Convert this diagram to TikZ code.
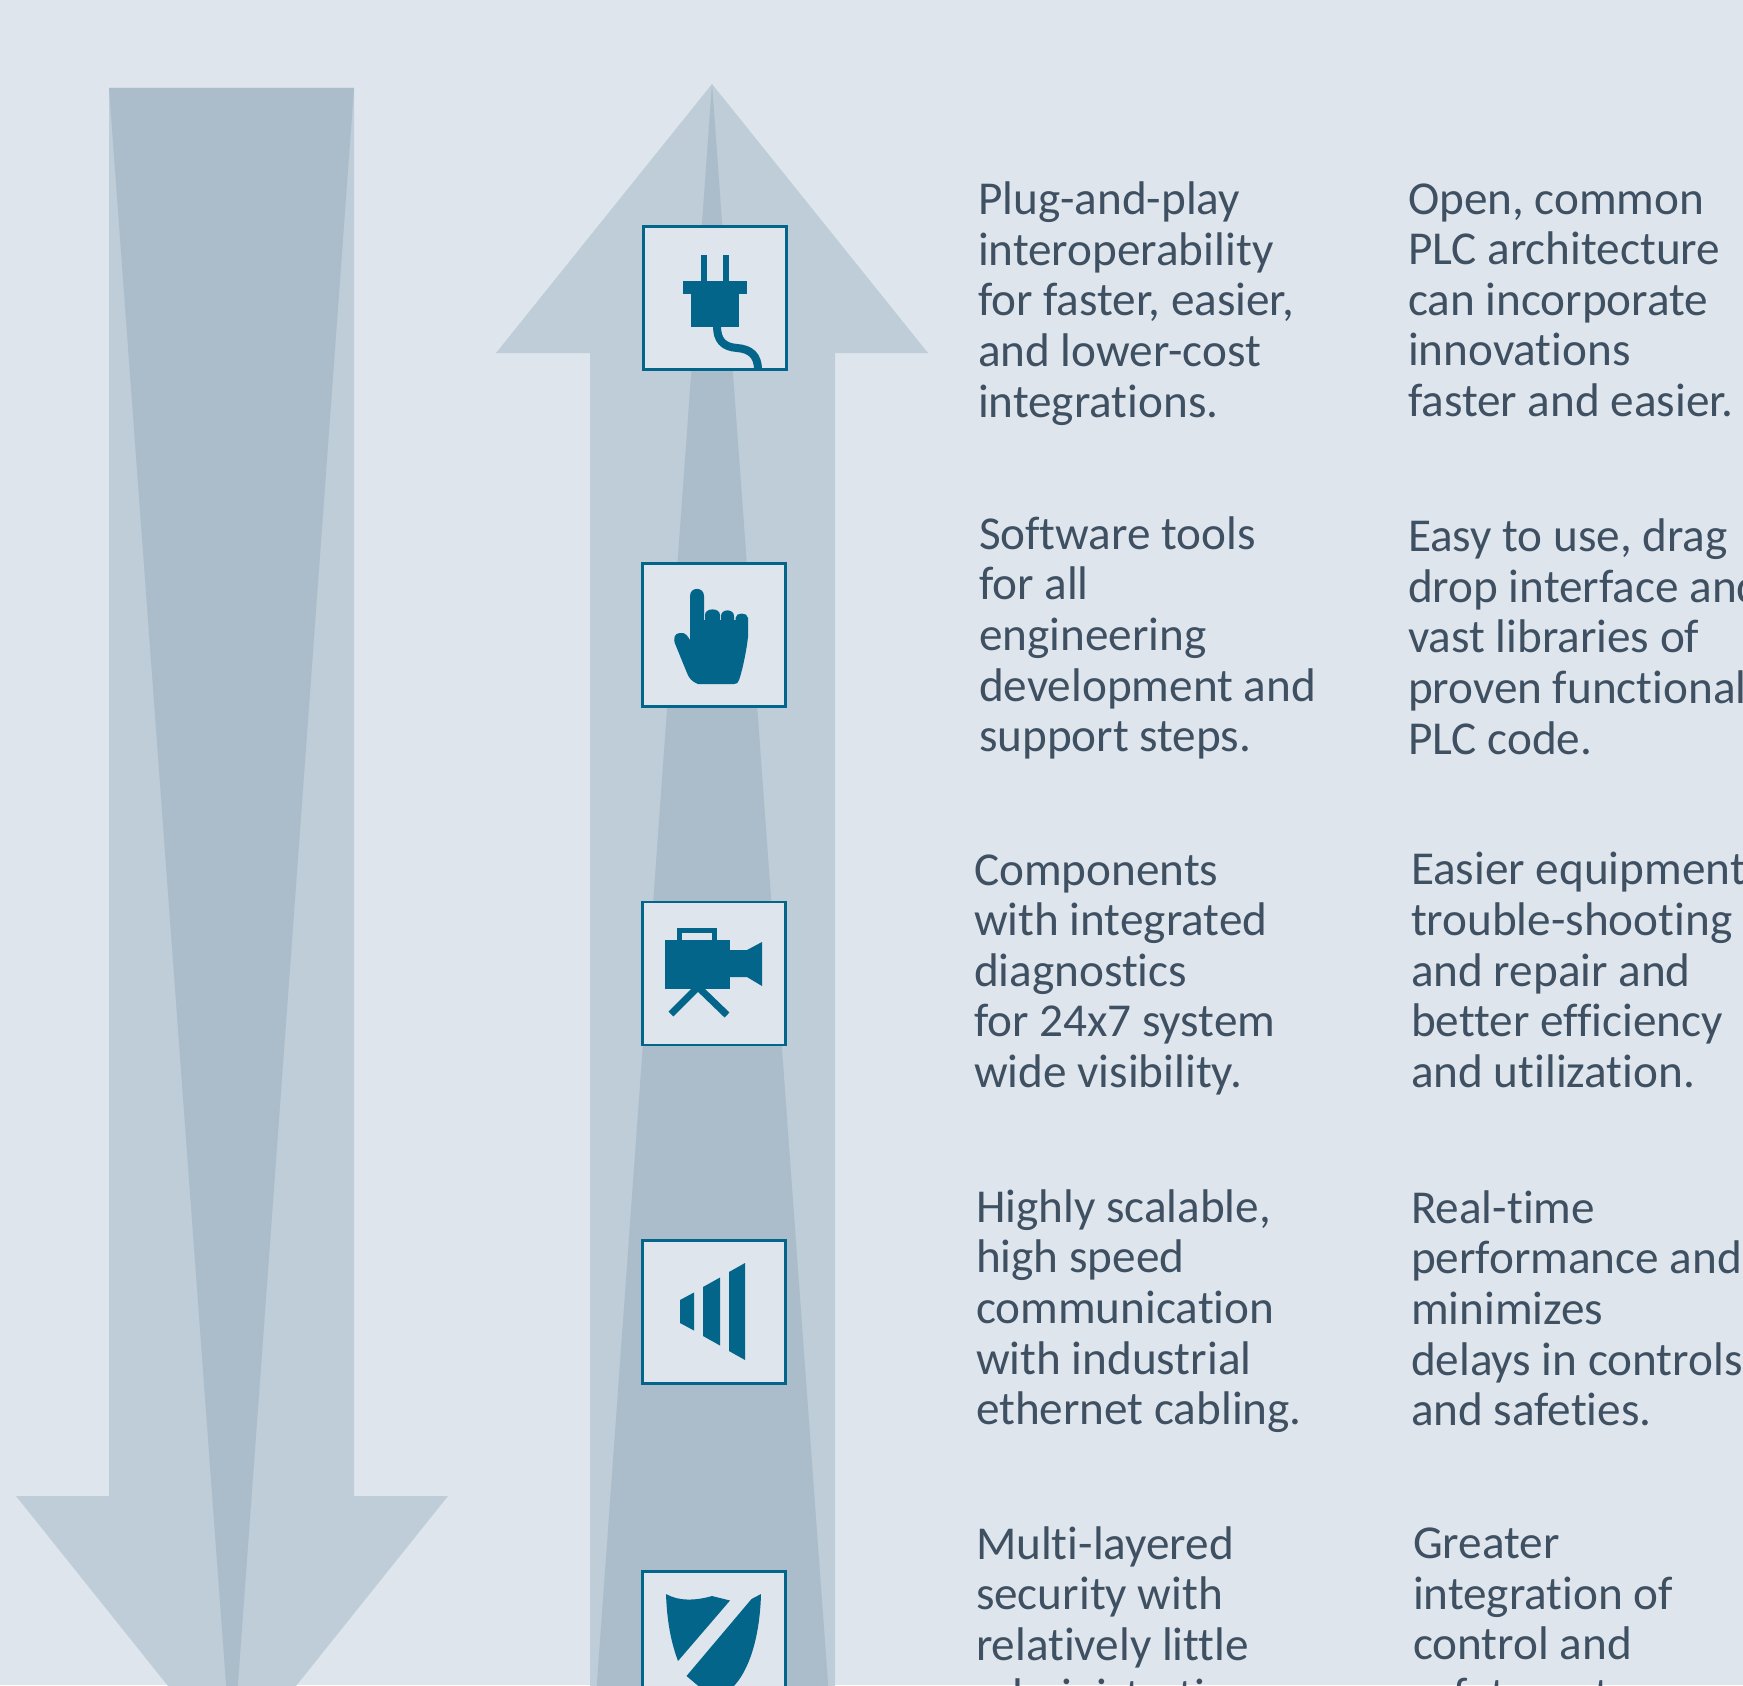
\documentclass[tikz,border=0pt]{standalone}
\usepackage{fontspec}
\setmainfont{Carlito}[Ligatures=NoCommon]
\definecolor{bgc}{RGB}{222,229,237}
\definecolor{lightc}{RGB}{190,205,215}
\definecolor{darkc}{RGB}{171,189,202}
\definecolor{teal1}{RGB}{3,101,137}
\definecolor{textc}{RGB}{62,80,97}
\tikzset{
  iconbox/.style={draw=teal1,fill=bgc,line width=1.4pt,minimum width=71.5pt,minimum height=71.5pt,inner sep=0pt,outer sep=0pt},
  body/.style={font=\fontsize{23.6}{25.3}\selectfont,text=textc,align=left,anchor=north west,inner sep=0pt,outer sep=0pt}
}
\begin{document}
\begin{tikzpicture}[x=0.5pt,y=-0.5pt]
\useasboundingbox (0,0) rectangle (1743,1685);
\clip (0,0) rectangle (1743,1685);
\fill[bgc] (0,0) rectangle (1743,1685);
% left arrow
\fill[lightc] (109,88) -- (354,88) -- (354,1496) -- (448,1496) -- (232,1766) -- (16,1496) -- (109,1496) -- cycle;
\fill[darkc] (109,88) -- (354,88) -- (232,1766) -- cycle;
% up arrow
\fill[lightc] (712,84) -- (928,353) -- (835,353) -- (835,1800) -- (590,1800) -- (590,353) -- (496,353) -- cycle;
\fill[darkc] (712,84) -- (835,1780) -- (590,1780) -- cycle;
\fill[darkc] (590,1775) rectangle (835,1800);
% boxes
\node[iconbox] (b1) at (715,298) {};
\node[iconbox] (b2) at (714,635) {};
\node[iconbox] (b3) at (714,973.5) {};
\node[iconbox] (b4) at (714,1312) {};
\node[iconbox] (b5) at (714,1643) {};
% plug
\fill[teal1] (700.5,255) rectangle (706.5,282);
\fill[teal1] (723,255) rectangle (729,282);
\fill[teal1] (683,281) rectangle (747,294);
\fill[teal1] (691,294) rectangle (739,326.5);
\draw[teal1,line width=4pt] (717,326) .. controls (717,340) and (723,347) .. (737,348) .. controls (750,349) and (758,355) .. (758,370);
% hand
\fill[teal1] (690,596) .. controls (690,586.5) and (704,586.5) .. (704,596)
 -- (704,620) -- (705,620) -- (705,615) .. controls (705,607.5) and (720,607.5) .. (720,615)
 -- (720,620) -- (721,620) -- (721,616) .. controls (721,608.5) and (734,608.5) .. (734,616)
 -- (734,620) -- (735.5,620) -- (735.5,618) .. controls (735.5,612) and (748,612) .. (748,618)
 -- (748,637) .. controls (746,655) and (741,675) .. (739,680) .. controls (738,683) and (737,684) .. (734,684) -- (698,684) .. controls (692,682) and (689,678) .. (687,673)
 -- (676,646) .. controls (672,638) and (675,633) .. (680,633) .. controls (686,632) and (688,637) .. (690,640) -- cycle;
% camera
\fill[teal1] (665,940) rectangle (730,989);
\fill[teal1] (730,950) -- (747,950) -- (762,942) -- (762,986) -- (747,977) -- (730,977) -- cycle;
\draw[teal1,line width=2.5pt] (679.5,940) -- (679.5,930.5) -- (714.5,930.5) -- (714.5,940);
\draw[teal1,line width=3.5pt] (671,1014) -- (698,987) -- (727,1015);
% speaker
\fill[teal1] (680,1300) -- (694,1292.5) -- (694,1330.5) -- (680,1323) -- cycle;
\fill[teal1] (703,1287) -- (720,1277.5) -- (720,1345.5) -- (703,1336) -- cycle;
\fill[teal1] (729,1272) -- (745,1263) -- (745,1360) -- (729,1351) -- cycle;
% shield
\fill[teal1] (666,1594) .. controls (678,1601) and (695,1601) .. (712,1596) -- (730,1600.5) -- (678,1661) .. controls (671,1642) and (667,1622) .. (666,1594) -- cycle;
\fill[teal1] (761,1594) -- (751.5,1599) -- (686.5,1676) -- (715,1700) -- (730,1690) .. controls (752,1670) and (760,1630) .. (761,1594) -- cycle;
% text
\node[body] (t1) at (978,182) {Plug-and-play\\interoperability\\for faster, easier,\\and lower-cost\\integrations.};
\node[body] (u1) at (1408,183.5) {Open, common\\PLC architecture\\can incorporate\\innovations\\faster and easier.};
\node[body] (t2) at (979,516.5) {Software tools\\for all\\engineering\\development and\\support steps.};
\node[body] (u2) at (1408,519) {Easy to use, drag\\drop interface and\\vast libraries of\\proven functional\\PLC code.};
\node[body] (t3) at (974,854.5) {Components\\with integrated\\diagnostics\\for 24x7 system\\wide visibility.};
\node[body] (u3) at (1411,852.5) {Easier equipment\\trouble-shooting\\and repair and\\better efficiency\\and utilization.};
\node[body] (t4) at (976,1189.5) {Highly scalable,\\high speed\\communication\\with industrial\\ethernet cabling.};
\node[body] (u4) at (1411,1190.5) {Real-time\\performance and\\minimizes\\delays in controls\\and safeties.};
\node[body] (t5) at (976,1526.5) {Multi-layered\\security with\\relatively little\\administration.};
\node[body] (u5) at (1413,1528) {Greater\\integration of\\control and\\safety systems.};
\end{tikzpicture}
\end{document}
